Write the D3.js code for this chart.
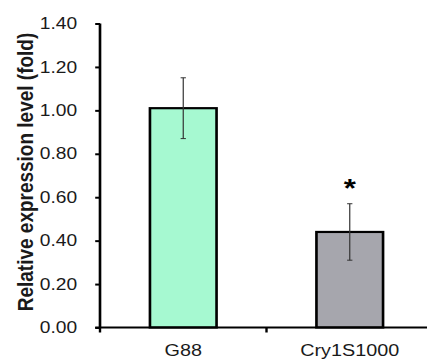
<!DOCTYPE html>
<html>
<head>
<meta charset="utf-8">
<script src="https://cdn.jsdelivr.net/npm/d3@7"></script>
<style>
  html, body { margin: 0; padding: 0; background: #fff; overflow: hidden; }
  svg { display: block; }
  text { font-family: "Liberation Sans", Arial, sans-serif; fill: #1a1a1a; }
</style>
</head>
<body>
<div id="chart"></div>
<script>
// data
const categories = ["G88", "Cry1S1000"];
const values = [1.01, 0.44];
const errors = [0.14, 0.13];
const significant = [false, true];
const barColors = ["#a6f9d1", "#a6a6ad"];
const yTicks = [0, 0.2, 0.4, 0.6, 0.8, 1.0, 1.2, 1.4];
const yLabel = "Relative expression level (fold)";

const width = 427, height = 359;
// original figure is stretched horizontally, so draw in a narrower box and stretch
const stretch = 1.2;
const iw = width / stretch;

const svg = d3.select("#chart").append("svg")
  .attr("width", width)
  .attr("height", height)
  .attr("viewBox", `0 0 ${iw} ${height}`)
  .attr("preserveAspectRatio", "none");

const left = 100 / stretch;
const right = 433 / stretch;

const y = d3.scaleLinear().domain([0, 1.4]).range([327.5, 23.5]);
const x = d3.scaleBand().domain(categories).range([left, right])
  .paddingInner(0.6).paddingOuter(0.3);
const xEdge = d3.scaleBand().domain(categories).range([left, right]);

// bars
svg.selectAll("rect.bar")
  .data(categories)
  .join("rect")
  .attr("class", "bar")
  .attr("x", d => x(d))
  .attr("width", x.bandwidth())
  .attr("y", (d, i) => y(values[i]))
  .attr("height", (d, i) => y(0) - y(values[i]))
  .attr("fill", (d, i) => barColors[i])
  .attr("stroke", "#000")
  .attr("stroke-width", 2.2);

// error bars
const eb = svg.selectAll("g.err")
  .data(categories)
  .join("g")
  .attr("class", "err")
  .attr("stroke", "#333")
  .attr("stroke-width", 1);
eb.append("line")
  .attr("x1", d => x(d) + x.bandwidth() / 2)
  .attr("x2", d => x(d) + x.bandwidth() / 2)
  .attr("y1", (d, i) => y(values[i] + errors[i]))
  .attr("y2", (d, i) => y(values[i] - errors[i]));
[1, -1].forEach(sgn => {
  eb.append("line")
    .attr("x1", d => x(d) + x.bandwidth() / 2 - 2.2)
    .attr("x2", d => x(d) + x.bandwidth() / 2 + 2.2)
    .attr("y1", (d, i) => y(values[i] + sgn * errors[i]))
    .attr("y2", (d, i) => y(values[i] + sgn * errors[i]));
});

// significance marks
svg.selectAll("text.sig")
  .data(categories.filter((d, i) => significant[i]))
  .join("text")
  .attr("class", "sig")
  .attr("x", d => x(d) + x.bandwidth() / 2)
  .attr("y", d => y(values[categories.indexOf(d)] + errors[categories.indexOf(d)]) - 7)
  .attr("text-anchor", "middle")
  .style("font-size", "26px")
  .style("font-weight", "bold")
  .style("fill", "#000")
  .text("*");

// y axis
const yAxis = svg.append("g")
  .attr("transform", `translate(${left},0)`)
  .call(d3.axisLeft(y).tickValues(yTicks).tickFormat(d3.format(".2f")).tickSize(4).tickPadding(15));
yAxis.select(".domain").attr("stroke", "#000").attr("stroke-width", 2.2)
  .attr("d", `M0,${y(1.4)}V${y(0)}`);
yAxis.selectAll(".tick line").attr("stroke", "#000").attr("stroke-width", 2);
yAxis.selectAll(".tick text").style("font-size", "16px").attr("fill", "#1a1a1a");

// x axis
const xAxis = svg.append("g")
  .attr("transform", `translate(0,${y(0)})`);
xAxis.append("line")
  .attr("x1", left - 4).attr("x2", right)
  .attr("stroke", "#000").attr("stroke-width", 2.2);
xAxis.selectAll("line.edge")
  .data(categories.map(d => xEdge(d)))
  .join("line")
  .attr("class", "edge")
  .attr("x1", d => d).attr("x2", d => d)
  .attr("y1", 0).attr("y2", 5)
  .attr("stroke", "#000").attr("stroke-width", 2);
xAxis.selectAll("text")
  .data(categories)
  .join("text")
  .attr("x", d => x(d) + x.bandwidth() / 2)
  .attr("y", 28.5)
  .attr("text-anchor", "middle")
  .style("font-size", "16.5px")
  .text(d => d);

// y label
svg.append("text")
  .attr("transform", `translate(${33 / stretch},172) rotate(-90)`)
  .attr("text-anchor", "middle")
  .style("font-size", "19px")
  .style("font-weight", "bold")
  .text(yLabel);
</script>
</body>
</html>
